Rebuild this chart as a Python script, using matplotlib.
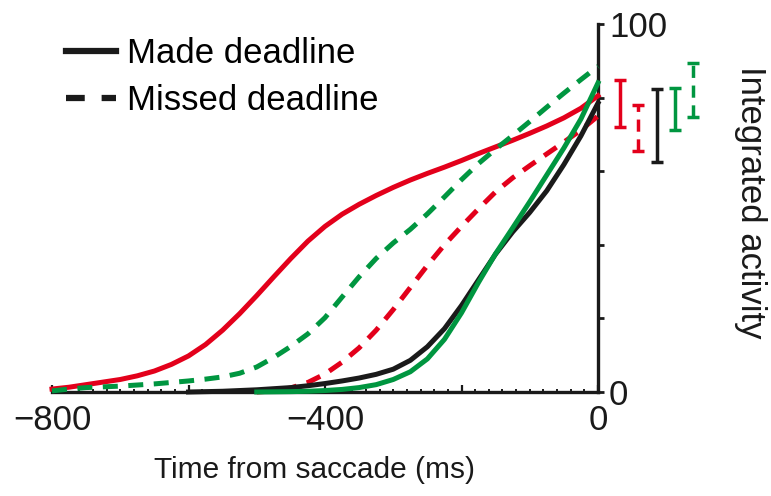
import numpy as np
import matplotlib
matplotlib.use("Agg")
import matplotlib.pyplot as plt
from matplotlib.lines import Line2D
from matplotlib.ticker import MultipleLocator, FixedLocator, FixedFormatter

plt.rcParams['font.family'] = ['Liberation Sans', 'DejaVu Sans']

# time axis (ms from saccade), sampled every 25 ms
time_ms = np.arange(-800, 1, 25)

nan = np.nan
# integrated activity
red_made = [0.8, 1.3, 2.0, 2.7, 3.4, 4.4, 5.7, 7.5, 9.8, 12.9, 16.8, 21.3, 26.2,
            31.3, 36.3, 41.0, 45.0, 48.3, 51.0, 53.4, 55.6, 57.6, 59.4, 61.1,
            62.9, 64.8, 66.6, 68.4, 70.3, 72.3, 74.5, 77.1, 80.5]
green_missed = [0.3, 0.8, 1.2, 1.4, 1.6, 1.9, 2.2, 2.6, 3.0, 3.5, 4.1, 5.1, 6.8,
                9.4, 12.4, 15.8, 20.2, 25.8, 31.3, 36.3, 40.5, 44.2, 48.4, 53.0,
                57.7, 62.1, 66.0, 69.7, 73.5, 77.4, 81.2, 84.9, 88.5]
red_missed = [nan] * 12 + [0.0, 0.3, 1.1, 2.6, 4.9, 8.1, 12.0, 16.8, 22.4, 28.4,
                           34.4, 40.0, 45.0, 49.8, 54.4, 58.2, 61.5, 64.7, 67.9,
                           71.2, 75.0]
black_made = [nan] * 8 + [0.0, 0.1, 0.2, 0.4, 0.6, 0.9, 1.2, 1.7, 2.3, 3.0, 3.8,
                          4.8, 6.2, 8.6, 12.3, 17.2, 23.5, 30.5, 37.5, 43.5, 48.8,
                          54.7, 61.8, 69.6, 78.5]
green_made = [nan] * 12 + [0.0, 0.05, 0.1, 0.2, 0.4, 0.7, 1.2, 2.0, 3.4, 5.5, 9.0,
                           14.3, 21.5, 29.8, 37.6, 44.6, 51.7, 59.0, 66.3, 74.2,
                           84.0]

# ranges shown to the right of the axis (low, high)
bar_names = ["red_made", "red_missed", "black_made", "green_made", "green_missed"]
bar_low = [71.9, 65.6, 62.6, 71.2, 74.8]
bar_high = [84.8, 78.0, 82.3, 82.5, 89.5]

RED = "#E3001B"
GREEN = "#009640"
BLACK = "#1A1A1A"

fig = plt.figure(figsize=(7.71, 4.96), dpi=100)
ax = fig.add_axes([52 / 771, 104 / 496, 546 / 771, 368 / 496])

lw = 3.6
dash = (3.0, 2.1)
kw = dict(lw=lw, clip_on=False, solid_joinstyle="round", dash_joinstyle="round")
ax.plot(time_ms, red_made, color=RED, zorder=3, **kw)
ax.plot(time_ms, green_missed, color=GREEN, dashes=dash, zorder=3, **kw)
ax.plot(time_ms, red_missed, color=RED, dashes=dash, zorder=3, **kw)
ax.plot(time_ms, black_made, color=BLACK, zorder=4, **kw)
ax.plot(time_ms, green_made, color=GREEN, zorder=4, **kw)

# range bars outside the plot
bar_x = [32, 59, 86, 113, 139]
bar_col = [RED, RED, BLACK, GREEN, GREEN]
bar_dashed = [False, True, False, False, True]
for x, lo, hi, c, d in zip(bar_x, bar_low, bar_high, bar_col, bar_dashed):
    ls = (0, (3.5, 2.2)) if d else "-"
    ax.plot([x, x], [lo, hi], color=c, lw=2.5, linestyle=ls, clip_on=False,
            solid_capstyle="butt", dash_capstyle="butt")
    ax.plot([x - 9, x + 9], [hi, hi], color=c, lw=2.5, clip_on=False, solid_capstyle="butt")
    ax.plot([x - 9, x + 9], [lo, lo], color=c, lw=2.5, clip_on=False, solid_capstyle="butt")

ax.set_xlim(-800, 0)
ax.set_ylim(0, 100)

for s in ["left", "top"]:
    ax.spines[s].set_visible(False)
for s in ["bottom", "right"]:
    ax.spines[s].set_linewidth(2.4)
    ax.spines[s].set_color(BLACK)

ax.xaxis.set_major_locator(FixedLocator([-800, -600, -400, -200, 0]))
ax.xaxis.set_major_formatter(FixedFormatter(["\u2212800", "", "\u2212400", "", "0"]))
ax.xaxis.set_minor_locator(MultipleLocator(20))
ax.tick_params(axis="x", which="major", direction="in", length=5, width=1.6,
               labelsize=25, pad=9, colors=BLACK)
ax.tick_params(axis="x", which="minor", direction="in", length=2.5, width=1.4, colors=BLACK)

ax.yaxis.tick_right()
ax.yaxis.set_major_locator(FixedLocator([0, 20, 40, 60, 80, 100]))
ax.yaxis.set_major_formatter(FixedFormatter(["0", "", "", "", "", "100"]))
ax.tick_params(axis="y", which="major", direction="out", length=4, width=2,
               labelsize=25, pad=4, colors=BLACK)
ax.tick_params(axis="y", which="minor", left=False, right=False)

ax.set_xlabel("Time from saccade (ms)", fontsize=21.5, color=BLACK)
ax.xaxis.set_label_coords((314 - 52) / 546, -0.175)
fig.text(750 / 771, 1 - 202 / 496, "Integrated activity", rotation=-90,
         ha="center", va="center", fontsize=25, color=BLACK)

handles = [Line2D([], [], color=BLACK, lw=4.5),
           Line2D([], [], color=BLACK, lw=4.5, dashes=(3.0, 2.7))]
ax.legend(handles, ["Made deadline", "Missed deadline"], loc="upper left",
          bbox_to_anchor=(66 / 771, 1 - 37 / 496), bbox_transform=fig.transFigure,
          frameon=False, fontsize=25, handlelength=1.45, handletextpad=0.32,
          labelspacing=0.4, borderpad=0, borderaxespad=0)

fig.savefig("out.png", dpi=100)
